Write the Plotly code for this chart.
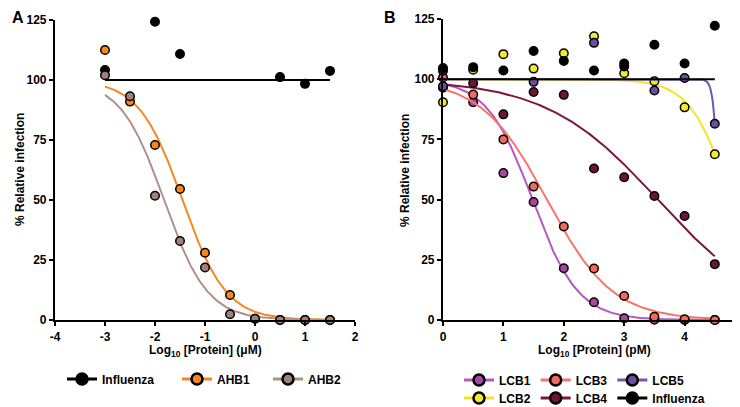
import numpy as np
import plotly.graph_objects as go

# ---------------- Panel A data ----------------
a_flu_x = [-3, -2, -1.5, 0.5, 1, 1.5]
a_flu_y = [104.2, 124.3, 110.8, 101.2, 98.4, 103.8]
a_x = [-3, -2.5, -2, -1.5, -1, -0.5, 0, 0.5, 1, 1.5]
a_ahb1_y = [112.5, 91.0, 72.9, 54.6, 28.0, 10.4, 0.5, 0.0, 0.0, 0.0]
a_ahb2_y = [102.0, 93.2, 51.8, 32.9, 21.9, 2.4, 0.5, 0.0, 0.0, 0.0]
# fitted dose-response parameters: (logIC50, hill)
a_ahb1_fit = (-1.45, 1.0)
a_ahb2_fit = (-1.82, 1.0)
a_fit_range = (-3, 1.5)

# ---------------- Panel B data ----------------
b_x = [0, 0.5, 1, 1.5, 2, 2.5, 3, 3.5, 4, 4.5]
b_lcb1_y = [96.5, 90.4, 61.0, 49.0, 21.5, 7.4, 0.7, 0.1, 0.0, 0.0]
b_lcb2_y = [90.4, 103.9, 110.4, 104.4, 110.8, 117.8, 102.5, 99.2, 88.3, 68.8]
b_lcb3_y = [100.7, 93.6, 75.0, 55.4, 38.8, 21.4, 10.0, 1.4, 0.3, 0.0]
b_lcb4_y = [103.5, 98.3, 85.4, 94.7, 93.5, 62.9, 59.3, 51.5, 43.2, 23.2]
b_lcb5_x = [0, 1.5, 2.5, 3.5, 4, 4.5]
b_lcb5_y = [97.1, 98.9, 115.1, 95.3, 100.5, 81.5]
b_flu_x = [0, 0.5, 1, 1.5, 2, 2.5, 3, 3, 3.5, 4, 4.5]
b_flu_y = [104.6, 105.0, 103.6, 111.7, 107.6, 103.6, 106.5, 105.3, 114.3, 106.5, 122.2]
b_lcb1_fit = (1.48, 1.15)
b_lcb2_fit = (4.77, 1.3)
b_lcb3_fit = (1.72, 0.8)
b_lcb4_fit = (3.555, 0.47)
b_lcb5_fit = (4.565, 10.0)
b_fit_range = (0, 4.5)

# tick labels
a_xticks = [-4, -3, -2, -1, 0, 1, 2]
a_xticktext = ["-4", "-3", "-2", "-1", "0", "1", "2"]
b_xticks = [0, 1, 2, 3, 4, 5]
yticks = [0, 25, 50, 75, 100, 125]

colors = {
    "Influenza": ("#000000", "#000000"),
    "AHB1": ("#f7861f", "#f7861f"),
    "AHB2": ("#a3817b", "#b0918a"),
    "LCB1": ("#a8479f", "#b857c0"),
    "LCB2": ("#f2ea2a", "#f0e52a"),
    "LCB3": ("#f26a5e", "#f87468"),
    "LCB4": ("#6e1434", "#7a1840"),
    "LCB5": ("#6a4ea0", "#7058ac"),
}

FONT = "Liberation Sans, Arial, sans-serif"


def logistic(x, p):
    lic, h = p
    return 100.0 / (1.0 + 10 ** ((x - lic) * h))


fig = go.Figure()


def add_series(name, xs, ys, fit, frange, xa, ya):
    fill, line = colors[name]
    if fit is None:
        cx = list(frange)
        cy = [100, 100]
    else:
        cx = np.linspace(frange[0], frange[1], 300)
        cy = logistic(cx, fit)
    fig.add_trace(go.Scatter(x=cx, y=cy, mode="lines", line=dict(color=line, width=2),
                             xaxis=xa, yaxis=ya, showlegend=False, hoverinfo="skip",
                             cliponaxis=False))
    fig.add_trace(go.Scatter(x=xs, y=ys, mode="markers",
                             marker=dict(size=8.5, color=fill, line=dict(color="black", width=1.5)),
                             xaxis=xa, yaxis=ya, showlegend=False, cliponaxis=False))


add_series("Influenza", a_flu_x, a_flu_y, None, a_fit_range, "x", "y")
add_series("AHB1", a_x, a_ahb1_y, a_ahb1_fit, a_fit_range, "x", "y")
add_series("AHB2", a_x, a_ahb2_y, a_ahb2_fit, a_fit_range, "x", "y")

add_series("LCB1", b_x, b_lcb1_y, b_lcb1_fit, b_fit_range, "x2", "y2")
add_series("LCB2", b_x, b_lcb2_y, b_lcb2_fit, b_fit_range, "x2", "y2")
add_series("LCB3", b_x, b_lcb3_y, b_lcb3_fit, b_fit_range, "x2", "y2")
add_series("LCB4", b_x, b_lcb4_y, b_lcb4_fit, b_fit_range, "x2", "y2")
add_series("LCB5", b_lcb5_x, b_lcb5_y, b_lcb5_fit, b_fit_range, "x2", "y2")
add_series("Influenza", b_flu_x, b_flu_y, None, b_fit_range, "x2", "y2")


def legend_entry(name, legend):
    fill, line = colors[name]
    fig.add_trace(go.Scatter(x=[None], y=[None], mode="lines+markers", name=name,
                             line=dict(color=line, width=3),
                             marker=dict(size=11, color=fill, line=dict(color="black", width=2.5)),
                             legend=legend, xaxis="x", yaxis="y"))


legend_entry("Influenza", "legend")
legend_entry("AHB1", "legend4")
legend_entry("AHB2", "legend5")
for n in ["LCB1", "LCB3", "LCB5"]:
    legend_entry(n, "legend2")
for n in ["LCB2", "LCB4", "Influenza"]:
    legend_entry(n, "legend3")

W, H = 740, 407


def px(x):
    return x / W


def py(y):
    return (H - y) / H


axis_common = dict(showline=True, linecolor="black", linewidth=2.2, ticks="outside",
                   ticklen=4, tickwidth=2, tickcolor="black", showgrid=False,
                   zeroline=False, tickfont=dict(family=FONT, size=12, color="black", weight="bold"))

leg_common = dict(orientation="h", bgcolor="rgba(0,0,0,0)", itemwidth=30,
                  font=dict(family=FONT, size=12, color="black", weight="bold"),
                  yanchor="middle", xanchor="left", tracegroupgap=0)

fig.update_layout(
    width=W, height=H, margin=dict(l=0, r=0, t=0, b=0, autoexpand=False),
    plot_bgcolor="white", paper_bgcolor="white",
    xaxis=dict(domain=[px(47), px(347)], range=[-4, 2], tickvals=a_xticks, ticktext=a_xticktext,
               anchor="y", **axis_common),
    yaxis=dict(domain=[py(312), py(12)], range=[0, 125], tickvals=yticks, anchor="x", **axis_common),
    xaxis2=dict(domain=[px(435), px(737)], range=[0, 5], tickvals=b_xticks, anchor="y2", **axis_common),
    yaxis2=dict(domain=[py(312), py(11)], range=[0, 125], tickvals=yticks, anchor="x2", **axis_common),
    legend=dict(x=px(54), y=py(371), **leg_common),
    legend4=dict(x=px(169), y=py(371), **leg_common),
    legend5=dict(x=px(260), y=py(371), **leg_common),
    legend2=dict(x=px(451), y=py(372), **leg_common),
    legend3=dict(x=px(451), y=py(390), **leg_common),
)

title_font = dict(family=FONT, size=12, color="black", weight="bold")
annos = [
    dict(text="% Relative infection", x=px(12), y=py(162), textangle=-90),
    dict(text="% Relative infection", x=px(397), y=py(162), textangle=-90),
    dict(text="Log<sub>10</sub> [Protein] (\u03bcM)", x=px(197), y=py(343)),
    dict(text="Log<sub>10</sub> [Protein] (pM)", x=px(586), y=py(343)),
]
for a in annos:
    fig.add_annotation(xref="paper", yref="paper", showarrow=False, font=title_font,
                       xanchor="center", yanchor="middle", **a)
fig.add_annotation(text="A", x=px(2), y=py(9), xref="paper", yref="paper", showarrow=False,
                   xanchor="left", yanchor="middle",
                   font=dict(family=FONT, size=16, color="black", weight="bold"))
fig.add_annotation(text="B", x=px(374), y=py(9), xref="paper", yref="paper", showarrow=False,
                   xanchor="left", yanchor="middle",
                   font=dict(family=FONT, size=16, color="black", weight="bold"))

fig.write_html("out.html")
